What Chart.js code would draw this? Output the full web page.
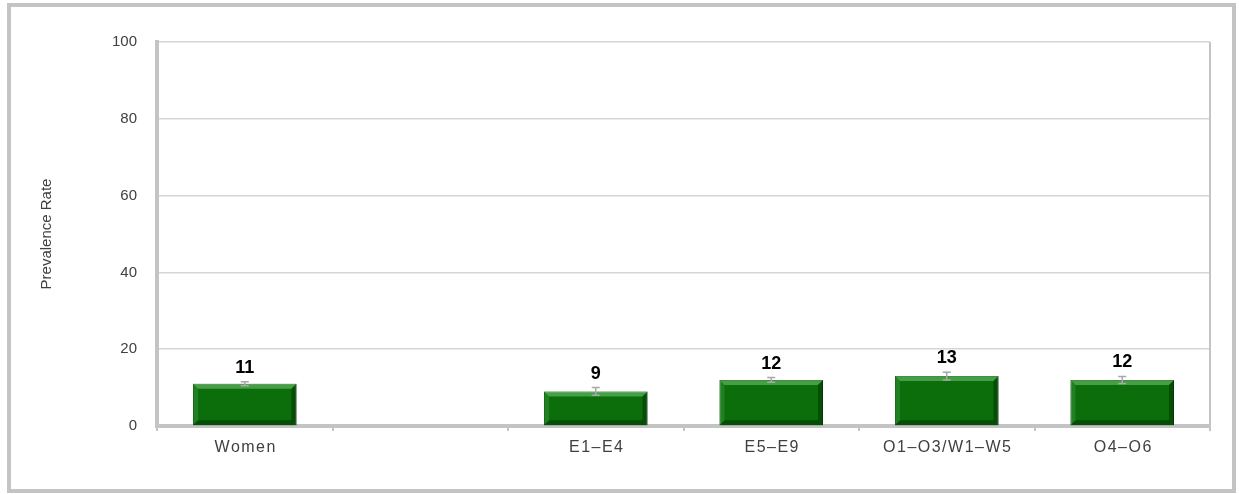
<!DOCTYPE html>
<html>
<head>
<meta charset="utf-8">
<script src="https://cdn.jsdelivr.net/npm/chart.js@4"></script>
<style>
  body { margin: 0; background: #fff; }
  #frame {
    position: absolute; left: 7px; top: 3px;
    width: 1221px; height: 482px;
    border: 4px solid #c4c4c4;
  }
</style>
</head>
<body>
<div id="frame"><canvas id="chart_root" width="1221" height="482"></canvas></div>
<script>
// chart data
const categories = ['Women', '', 'E1\u2013E4', 'E5\u2013E9', 'O1\u2013O3/W1\u2013W5', 'O4\u2013O6'];
const prevalence = [11, null, 9, 12, 13, 12];
const errorHalf = [0.5, null, 1, 0.6, 1, 0.9];
const yTicks = [0, 20, 40, 60, 80, 100];

const FONT = '"Liberation Sans", Arial, sans-serif';

// bevelled bars, error bars, value labels, x labels, right border
const barDecor = {
  id: 'barDecor',
  afterDatasetsDraw(chart) {
    const ctx = chart.ctx;
    const x = chart.scales.x;
    const y = chart.scales.y;
    const area = chart.chartArea;
    const meta = chart.getDatasetMeta(0);

    ctx.save();
    ctx.strokeStyle = '#c4c4c4';
    ctx.lineWidth = 2;
    ctx.beginPath();
    ctx.moveTo(area.right, area.top);
    ctx.lineTo(area.right, area.bottom);
    ctx.stroke();

    // category labels (spaced like the original)
    ctx.fillStyle = '#404040';
    ctx.font = '16px ' + FONT;
    ctx.letterSpacing = '1.5px';
    ctx.textAlign = 'center';
    ctx.textBaseline = 'middle';
    categories.forEach((c, i) => {
      ctx.fillText(c, x.getPixelForValue(i) + 1, area.bottom + 22);
    });
    ctx.letterSpacing = '0px';

    meta.data.forEach((bar, i) => {
      if (prevalence[i] == null) return;
      const left = bar.x - bar.width / 2;
      const right = bar.x + bar.width / 2;
      const top = bar.y;
      const bottom = bar.base;
      const b = 5;

      // top bevel (light)
      ctx.fillStyle = 'rgba(120,200,120,0.55)';
      ctx.beginPath();
      ctx.moveTo(left, top); ctx.lineTo(right, top);
      ctx.lineTo(right - b, top + b); ctx.lineTo(left + b, top + b);
      ctx.closePath(); ctx.fill();
      // left bevel
      ctx.fillStyle = 'rgba(60,150,60,0.45)';
      ctx.beginPath();
      ctx.moveTo(left, top); ctx.lineTo(left + b, top + b);
      ctx.lineTo(left + b, bottom - b); ctx.lineTo(left, bottom);
      ctx.closePath(); ctx.fill();
      // right + bottom bevel (dark)
      ctx.fillStyle = 'rgba(0,40,0,0.45)';
      ctx.beginPath();
      ctx.moveTo(right, top); ctx.lineTo(right, bottom);
      ctx.lineTo(right - b, bottom - b); ctx.lineTo(right - b, top + b);
      ctx.closePath(); ctx.fill();
      ctx.beginPath();
      ctx.moveTo(left, bottom); ctx.lineTo(right, bottom);
      ctx.lineTo(right - b, bottom - b); ctx.lineTo(left + b, bottom - b);
      ctx.closePath(); ctx.fill();

      // error bar
      const hi = y.getPixelForValue(prevalence[i] + errorHalf[i]);
      const lo = y.getPixelForValue(prevalence[i] - errorHalf[i]);
      ctx.strokeStyle = '#a8a8a8';
      ctx.lineWidth = 1.5;
      ctx.beginPath();
      ctx.moveTo(bar.x, hi); ctx.lineTo(bar.x, lo);
      ctx.moveTo(bar.x - 4, hi); ctx.lineTo(bar.x + 4, hi);
      ctx.moveTo(bar.x - 4, lo); ctx.lineTo(bar.x + 4, lo);
      ctx.stroke();

      // value label
      ctx.fillStyle = '#000';
      ctx.font = 'bold 18px ' + FONT;
      ctx.textAlign = 'center';
      ctx.textBaseline = 'alphabetic';
      ctx.fillText(String(prevalence[i]), bar.x, Math.min(hi, top) - 9);
    });
    ctx.restore();
  }
};

const ctx = document.getElementById('chart_root');

new Chart(ctx, {
  type: 'bar',
  data: {
    labels: categories,
    datasets: [
      {
        data: prevalence,
        backgroundColor: '#0b6e0b',
        borderColor: '#064506',
        borderWidth: 1,
        barPercentage: 0.59,
        categoryPercentage: 1
      }
    ]
  },
  options: {
    responsive: false,
    animation: false,
    layout: { padding: { left: 20, right: 22, top: 35, bottom: 0 } },
    plugins: { legend: { display: false }, tooltip: { enabled: false } },
    scales: {
      x: {
        offset: true,
        grid: { display: true, drawOnChartArea: false, tickLength: 5, color: '#c4c4c4', lineWidth: 2, offset: true },
        border: { color: '#c4c4c4', width: 4 },
        ticks: { display: false },
        afterFit: (scale) => { scale.height = 63; }
      },
      y: {
        min: 0,
        max: 100,
        afterBuildTicks: (scale) => { scale.ticks = yTicks.map((v) => ({ value: v })); },
        grid: { color: '#d6d6d6', lineWidth: 1.5, drawTicks: false },
        border: { color: '#c4c4c4', width: 4 },
        ticks: {
          color: '#404040', padding: 20,
          font: { family: FONT, size: 15 }
        },
        title: {
          display: true, text: 'Prevalence Rate', color: '#404040',
          padding: { top: 7, bottom: 0 },
          font: { family: FONT, size: 15 }
        },
        afterFit: (scale) => { scale.width = 126; }
      }
    }
  },
  plugins: [barDecor]
});
</script>
</body>
</html>
